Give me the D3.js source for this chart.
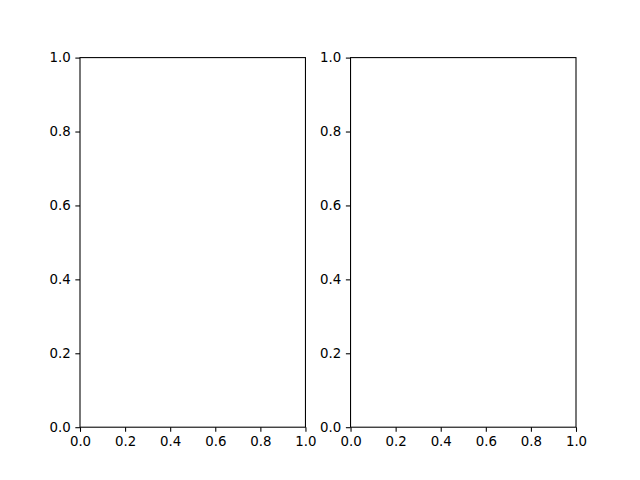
<!DOCTYPE html>
<meta charset="utf-8">
<script src="https://cdn.jsdelivr.net/npm/d3@7"></script>
<style>
body { margin: 0; background: #fff; }
.axis text { font-family: "DejaVu Sans", sans-serif; font-size: 13.33px; fill: #000; }
.axis line { stroke: #000; stroke-width: 1.07; }
</style>
<body>
<script>
// tick values shared by both panels
var tickValues = [0.0, 0.2, 0.4, 0.6, 0.8, 1.0];
var tickLabels = ["0.0", "0.2", "0.4", "0.6", "0.8", "1.0"];
var panels = ["left", "right"];
var xDomain = [0, 1];
var yDomain = [0, 1];

var width = 640,
    height = 480;

var svg = d3.select("body").append("svg")
    .attr("width", width)
    .attr("height", height);

// matplotlib default subplot params
var mLeft = 0.125 * width,
    mRight = 0.9 * width,
    mTop = (1 - 0.88) * height,
    mBottom = (1 - 0.11) * height;
var wspace = 0.2;
var pw = (mRight - mLeft) / (panels.length + wspace * (panels.length - 1));
var ph = mBottom - mTop;
var tickLen = 3.5 * 4 / 3;

panels.forEach(function(p, i) {
  var x0 = mLeft + i * pw * (1 + wspace);
  var g = svg.append("g")
      .attr("transform", "translate(" + x0 + "," + mTop + ")");

  var xscale = d3.scaleLinear().domain(xDomain).range([0, pw]);
  var yscale = d3.scaleLinear().domain(yDomain).range([ph, 0]);

  var ax = g.append("g")
    .attr("class", "axis")
    .attr("transform", "translate(0," + ph + ")")
    .call(d3.axisBottom(xscale)
      .tickValues(tickValues)
      .tickFormat(function(d, j) { return tickLabels[j]; })
      .tickSize(tickLen).tickPadding(tickLen).tickSizeOuter(0));

  var ay = g.append("g")
    .attr("class", "axis")
    .call(d3.axisLeft(yscale)
      .tickValues(tickValues)
      .tickFormat(function(d, j) { return tickLabels[j]; })
      .tickSize(tickLen).tickPadding(tickLen).tickSizeOuter(0));

  ax.select(".domain").remove();
  ay.select(".domain").remove();

  // frame (spines)
  g.append("rect")
    .attr("x", 0).attr("y", 0)
    .attr("width", pw).attr("height", ph)
    .attr("fill", "none")
    .attr("stroke", "#000")
    .attr("stroke-width", 1.07);
});
</script>
</body>
